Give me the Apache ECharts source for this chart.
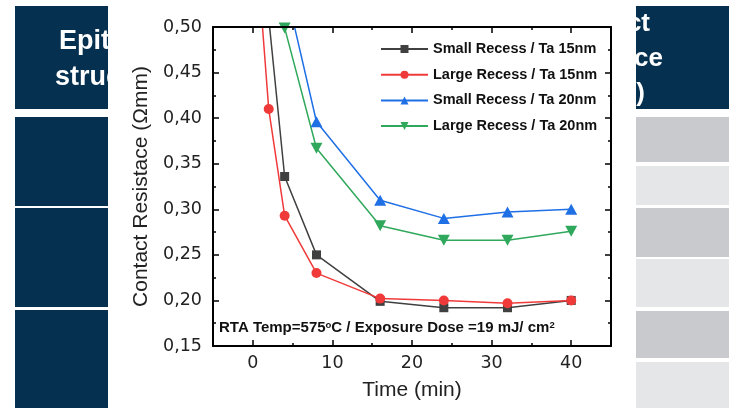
<!DOCTYPE html>
<html>
<head>
<meta charset="utf-8">
<script src="https://cdn.jsdelivr.net/npm/echarts@6/dist/echarts.min.js"></script>
<style>html,body{margin:0;padding:0;background:#fff}#c{width:729px;height:408px}</style>
</head>
<body>
<div id="c"></div>
<script>
// ---- data ----
const seriesNames = ['Small Recess / Ta 15nm', 'Large Recess / Ta 15nm', 'Small Recess / Ta 20nm', 'Large Recess / Ta 20nm'];
const xSmall15 = [2, 4, 8, 16, 24, 32, 40];
const ySmall15 = [0.51, 0.336, 0.250, 0.199, 0.192, 0.192, 0.200];
const xLarge15 = [0, 2, 4, 8, 16, 24, 32, 40];
const yLarge15 = [0.64, 0.410, 0.293, 0.230, 0.202, 0.200, 0.197, 0.200];
const xSmall20 = [4, 8, 16, 24, 32, 40];
const ySmall20 = [0.547, 0.396, 0.310, 0.290, 0.297, 0.300];
const xLarge20 = [4, 8, 16, 24, 32, 40];
const yLarge20 = [0.499, 0.367, 0.282, 0.266, 0.266, 0.276];
const xTickLabels = [0, 10, 20, 30, 40];
const yTickValues = [0.15, 0.20, 0.25, 0.30, 0.35, 0.40, 0.45, 0.50];
const xTitle = 'Time (min)';
const yTitle = 'Contact Resistace (Ωmm)';

const pair = (xs, ys) => xs.map((x, i) => [x, ys[i]]);
const colors = ['#404040', '#f03a3a', '#1f6fe5', '#2fa85c'];
const symbols = ['rect', 'circle', 'triangle', 'path://M0,0 L10,0 L5,9 Z'];
const symSizes = [9, 10, [12, 11], [12, 11]];
const datas = [pair(xSmall15, ySmall15), pair(xLarge15, yLarge15), pair(xSmall20, ySmall20), pair(xLarge20, yLarge20)];

const navy = '#05304f';
const dark = '#c9cacd', light = '#e5e6e8';
const tickFont = {fontFamily: 'DejaVu Sans', fontSize: 17.5, color: '#222'};
const axisLineStyle = {color: '#000', width: 2};
const headFont = 'bold 26px "Liberation Sans", Arial';
const headFontL = 'bold 27px "Liberation Sans", Arial';

const chart = echarts.init(document.getElementById('c'), null, {renderer: 'canvas'});

const baseX = {
  type: 'value', min: -5, max: 45, interval: 5, z: 5,
  splitLine: {show: false},
  axisLine: {show: true, onZero: false, lineStyle: axisLineStyle}
};
const baseY = {
  type: 'value', min: 0.15, max: 0.50, interval: 0.05, z: 5,
  splitLine: {show: false},
  axisLine: {show: true, onZero: false, lineStyle: axisLineStyle}
};

const option = {
  animation: false,
  backgroundColor: '#fff',
  grid: {left: 213, right: 118, top: 27, bottom: 62, containLabel: false},
  xAxis: [
    Object.assign({}, baseX, {
      position: 'bottom',
      name: xTitle, nameLocation: 'middle', nameGap: 34,
      nameTextStyle: {fontFamily: 'Liberation Sans, Arial', fontSize: 21, color: '#222'},
      axisTick: {inside: true, length: 3, lineStyle: {color: '#000', width: 1.5}},
      axisLabel: {customValues: xTickLabels, margin: 8, ...tickFont, formatter: v => String(v)}
    }),
    Object.assign({}, baseX, {
      position: 'bottom',
      axisLine: {show: false},
      axisTick: {inside: true, length: 6, customValues: xTickLabels, lineStyle: {color: '#000', width: 1.5}},
      axisLabel: {show: false}
    }),
    Object.assign({}, baseX, {
      position: 'top',
      axisTick: {inside: true, length: 3, lineStyle: {color: '#000', width: 1.5}},
      axisLabel: {show: false}
    }),
    Object.assign({}, baseX, {
      position: 'top',
      axisLine: {show: false},
      axisTick: {inside: true, length: 6, customValues: xTickLabels, lineStyle: {color: '#000', width: 1.5}},
      axisLabel: {show: false}
    })
  ],
  yAxis: [
    Object.assign({}, baseY, {
      position: 'left',
      name: yTitle, nameLocation: 'middle', nameGap: 54, nameRotate: 90,
      nameTextStyle: {fontFamily: 'Liberation Sans, Arial', fontSize: 21, color: '#222'},
      axisTick: {inside: true, length: 6, customValues: yTickValues, lineStyle: {color: '#000', width: 1.5}},
      minorTick: {show: true, splitNumber: 2, length: 3, lineStyle: {color: '#000', width: 1.5}},
      axisLabel: {margin: 11, ...tickFont, formatter: v => v.toFixed(2).replace('.', ',')}
    }),
    Object.assign({}, baseY, {
      position: 'right',
      axisTick: {inside: true, length: 6, lineStyle: {color: '#000', width: 1.5}},
      minorTick: {show: true, splitNumber: 2, length: 3, lineStyle: {color: '#000', width: 1.5}},
      axisLabel: {show: false}
    })
  ],
  legend: {
    orient: 'vertical', left: 375, top: 36,
    itemWidth: 47, itemHeight: 10, itemGap: 9.7,
    textStyle: {fontFamily: 'Liberation Sans, Arial', fontWeight: 'bold', fontSize: 14.5, color: '#111', lineHeight: 16},
    data: seriesNames
  },
  series: seriesNames.map((n, i) => ({
    name: n, type: 'line', xAxisIndex: 0, yAxisIndex: 0,
    data: datas[i], color: colors[i],
    symbol: symbols[i], symbolSize: symSizes[i], showSymbol: true,
    lineStyle: {width: 1.5, color: colors[i]},
    itemStyle: {color: colors[i]},
    clip: true, z: 3
  })),
  graphic: [
    // left table cells
    {type: 'rect', z: 0, shape: {x: 15, y: 6, width: 93, height: 103}, style: {fill: navy}},
    {type: 'rect', z: 0, shape: {x: 15, y: 117, width: 93, height: 89}, style: {fill: navy}},
    {type: 'rect', z: 0, shape: {x: 15, y: 208, width: 93, height: 99}, style: {fill: navy}},
    {type: 'rect', z: 0, shape: {x: 15, y: 310, width: 93, height: 98}, style: {fill: navy}},
    {type: 'text', z: 0, style: {text: 'Epitaxial', x: 59, y: 42, verticalAlign: 'middle', fill: '#fff', font: headFontL}},
    {type: 'text', z: 0, style: {text: 'structure', x: 55, y: 78, verticalAlign: 'middle', fill: '#fff', font: headFontL}},
    // right table cells
    {type: 'rect', z: 0, shape: {x: 636, y: 6, width: 93, height: 103}, style: {fill: navy}},
    {type: 'rect', z: 0, shape: {x: 636, y: 117, width: 93, height: 45}, style: {fill: dark}},
    {type: 'rect', z: 0, shape: {x: 636, y: 166, width: 93, height: 39}, style: {fill: light}},
    {type: 'rect', z: 0, shape: {x: 636, y: 208, width: 93, height: 49}, style: {fill: dark}},
    {type: 'rect', z: 0, shape: {x: 636, y: 259, width: 93, height: 48}, style: {fill: light}},
    {type: 'rect', z: 0, shape: {x: 636, y: 311, width: 93, height: 47}, style: {fill: dark}},
    {type: 'rect', z: 0, shape: {x: 636, y: 362, width: 93, height: 46}, style: {fill: light}},
    {type: 'text', z: 0, style: {text: 'Contact', x: 650, y: 24, align: 'right', verticalAlign: 'middle', fill: '#fff', font: headFont}},
    {type: 'text', z: 0, style: {text: 'Resistance', x: 663, y: 59, align: 'right', verticalAlign: 'middle', fill: '#fff', font: headFont}},
    {type: 'text', z: 0, style: {text: '(Ωmm)', x: 645, y: 94, align: 'right', verticalAlign: 'middle', fill: '#fff', font: headFont}},
    // white chart panel
    {type: 'rect', z: 1, shape: {x: 108, y: 0, width: 528, height: 408}, style: {fill: '#fff'}},
    // annotation
    {type: 'text', z: 10, left: 219, top: 320,
      style: {
        text: 'RTA Temp=575{sup|o}C / Exposure Dose =19 mJ/ cm{sup|2}',
        fill: '#111', font: 'bold 15px "Liberation Sans", Arial',
        rich: {sup: {fontSize: 9.5, fontWeight: 'bold', fontFamily: 'Liberation Sans, Arial', verticalAlign: 'top', fill: '#111', lineHeight: 9}}
      }}
  ]
};
chart.setOption(option);
</script>
</body>
</html>
